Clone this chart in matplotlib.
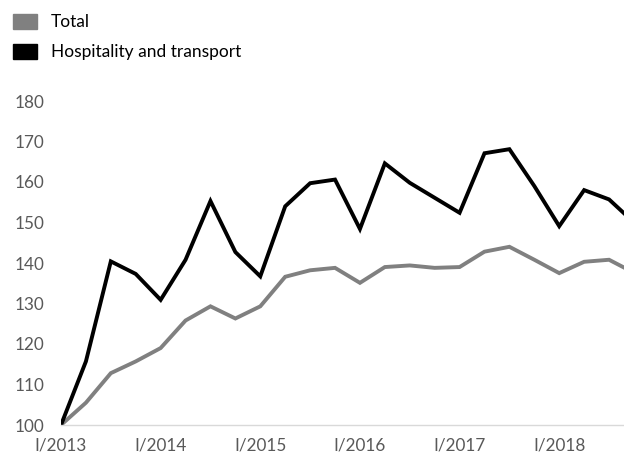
import numpy as np
import matplotlib.pyplot as plt
from matplotlib.patches import Patch

plt.rcParams['font.family'] = ['Lato', 'DejaVu Sans']

# quarterly index, I/2013 = 100
quarters = np.arange(24)
total = [100, 105.5, 112.8, 115.7, 119.0, 125.8, 129.3, 126.3,
         129.3, 136.6, 138.2, 138.8, 135.1, 139.0, 139.4, 138.8,
         139.0, 142.8, 144.0, 140.8, 137.5, 140.3, 140.8, 137.6]
hospitality = [100, 115.7, 140.4, 137.3, 130.9, 140.8, 155.3, 142.7,
               136.7, 154.0, 159.7, 160.6, 148.4, 164.6, 159.8, 156.1,
               152.4, 167.1, 168.1, 159.0, 149.1, 158.0, 155.7, 150.0]
year_ticks = [0, 4, 8, 12, 16, 20]
year_labels = ['I/2013', 'I/2014', 'I/2015', 'I/2016', 'I/2017', 'I/2018']

fig = plt.figure(figsize=(6.24, 4.55), dpi=100)
ax = fig.add_axes([61/624, 1-425/455, 1-61/624, (425-101)/455])

ax.plot(quarters, total, color='#808080', lw=2.8, solid_joinstyle='miter')
ax.plot(quarters, hospitality, color='black', lw=2.8, solid_joinstyle='miter')

ax.set_xlim(0, 22.6)
ax.set_ylim(100, 180)
ax.set_yticks(range(100, 181, 10))
ax.set_xticks(year_ticks)
ax.set_xticklabels(year_labels)
ax.tick_params(length=0, labelsize=12.3, labelcolor='#595959')
ax.tick_params(axis='x', pad=9)
ax.tick_params(axis='y', pad=12)
for s in ['top', 'right', 'left']:
    ax.spines[s].set_visible(False)
ax.spines['bottom'].set_color('#d9d9d9')
ax.spines['bottom'].set_linewidth(1)

handles = [Patch(color='#808080'), Patch(color='black')]
fig.legend(handles, ['Total', 'Hospitality and transport'],
           loc='upper left', bbox_to_anchor=(0.01, 0.985), frameon=False,
           fontsize=12.5, handlelength=1.4, handleheight=1.0,
           labelspacing=0.75, handletextpad=0.75, borderaxespad=0)

fig.savefig('out.png', dpi=100)
